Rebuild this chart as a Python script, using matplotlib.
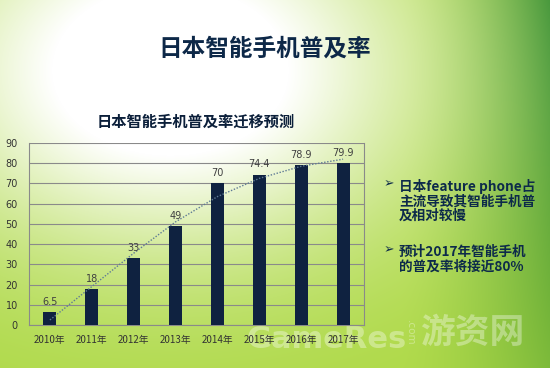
import numpy as np
import matplotlib.pyplot as plt

plt.rcParams['font.family'] = ['Noto Sans CJK SC', 'DejaVu Sans']

years = ['2010年', '2011年', '2012年', '2013年', '2014年', '2015年', '2016年', '2017年']
rates = [6.5, 18, 33, 49, 70, 74.4, 78.9, 79.9]
rate_labels = ['6.5', '18', '33', '49', '70', '74.4', '78.9', '79.9']
# dotted trend line at each year
trend = [2.5, 19, 35.5, 51, 63.5, 72.5, 78.5, 82]
yticks = [0, 10, 20, 30, 40, 50, 60, 70, 80, 90]

fig = plt.figure(figsize=(5.5, 3.68), dpi=100)

# background: green gradient with a white glow top-left
H, W = 368, 550
yy, xx = np.mgrid[0:H, 0:W]
light = np.array([0.68, 0.85, 0.27])
dark = np.array([0.20, 0.55, 0.15])
t = np.clip((xx - 400) / 150.0, 0, 1) ** 1.5 * (1 - 0.6 * yy / H)
base = light * (1 - t[..., None]) + dark * t[..., None]
glow = np.exp(-((xx - 170) / 250.0) ** 2 - ((yy - 70) / 180.0) ** 2)
glow = np.clip(glow * 1.25, 0, 1)
img = base * (1 - glow[..., None]) + np.ones(3) * glow[..., None]
bg = fig.add_axes([0, 0, 1, 1])
bg.imshow(img, aspect='auto', extent=[0, W, H, 0])
bg.set_xlim(0, W)
bg.set_ylim(H, 0)
bg.axis('off')

bg.text(265, 48, '日本智能手机普及率', fontsize=17, fontweight='bold',
        color='#0d2848', ha='center', va='center')
bg.text(196, 122, '日本智能手机普及率迁移预测', fontsize=11, fontweight='bold',
        color='#0b1f3a', ha='center', va='center')

txt_color = '#0d2a4a'
bg.text(384, 184, '➢', fontsize=9, color=txt_color, ha='left', va='center',
        family=['DejaVu Sans'])
bg.text(399, 201, '日本feature phone占\n主流导致其智能手机普\n及相对较慢', fontsize=9.8,
        fontweight='bold', color=txt_color, ha='left', va='center', linespacing=1.05)
bg.text(384, 250, '➢', fontsize=9, color=txt_color, ha='left', va='center',
        family=['DejaVu Sans'])
bg.text(399, 259, '预计2017年智能手机\n的普及率将接近80%', fontsize=9.8,
        fontweight='bold', color=txt_color, ha='left', va='center', linespacing=1.05)

ax = fig.add_axes([29 / 550, 43 / 368, 335 / 550, 182 / 368])
ax.patch.set_alpha(0)
x = np.arange(len(years))
ax.bar(x, rates, width=0.31, color='#0f2240', zorder=3)
ax.plot(x, trend, linestyle=(0, (1, 1.2)), color='#5f7b95', lw=1.0, zorder=4)
for xi, v, lab in zip(x, rates, rate_labels):
    ax.text(xi, v + 2.5, lab, ha='center', va='bottom', fontsize=7, color='#404040',
            family=['DejaVu Sans'], zorder=5)

ax.set_xlim(-0.5, len(years) - 0.5)
ax.set_ylim(0, 90)
ax.set_yticks(yticks)
ax.set_xticks(x)
ax.set_xticklabels(years)
ax.grid(axis='y', color='#8a8a8a', lw=0.8, zorder=0)
ax.tick_params(axis='both', length=0, labelsize=7, colors='#333333')
ax.tick_params(axis='x', pad=7)
ax.tick_params(axis='y', pad=8)
for lab in ax.get_yticklabels():
    lab.set_family(['DejaVu Sans'])
ax.spines['top'].set_visible(False)
for s in ['left', 'right', 'bottom']:
    ax.spines[s].set_color('#8a8a8a')
    ax.spines[s].set_linewidth(0.8)

# watermark
bg.text(246, 340, 'GameRes', fontsize=22, fontweight='bold', color='white', alpha=0.35,
        ha='left', va='center', family=['DejaVu Sans'])
bg.text(410, 333, '.com', fontsize=7.5, color='white', alpha=0.35, rotation=270,
        ha='center', va='center', family=['DejaVu Sans'])
bg.text(420, 332, '游资网', fontsize=25, fontweight='bold', color='white', alpha=0.35,
        ha='left', va='center')

fig.savefig('out.png', dpi=100)
